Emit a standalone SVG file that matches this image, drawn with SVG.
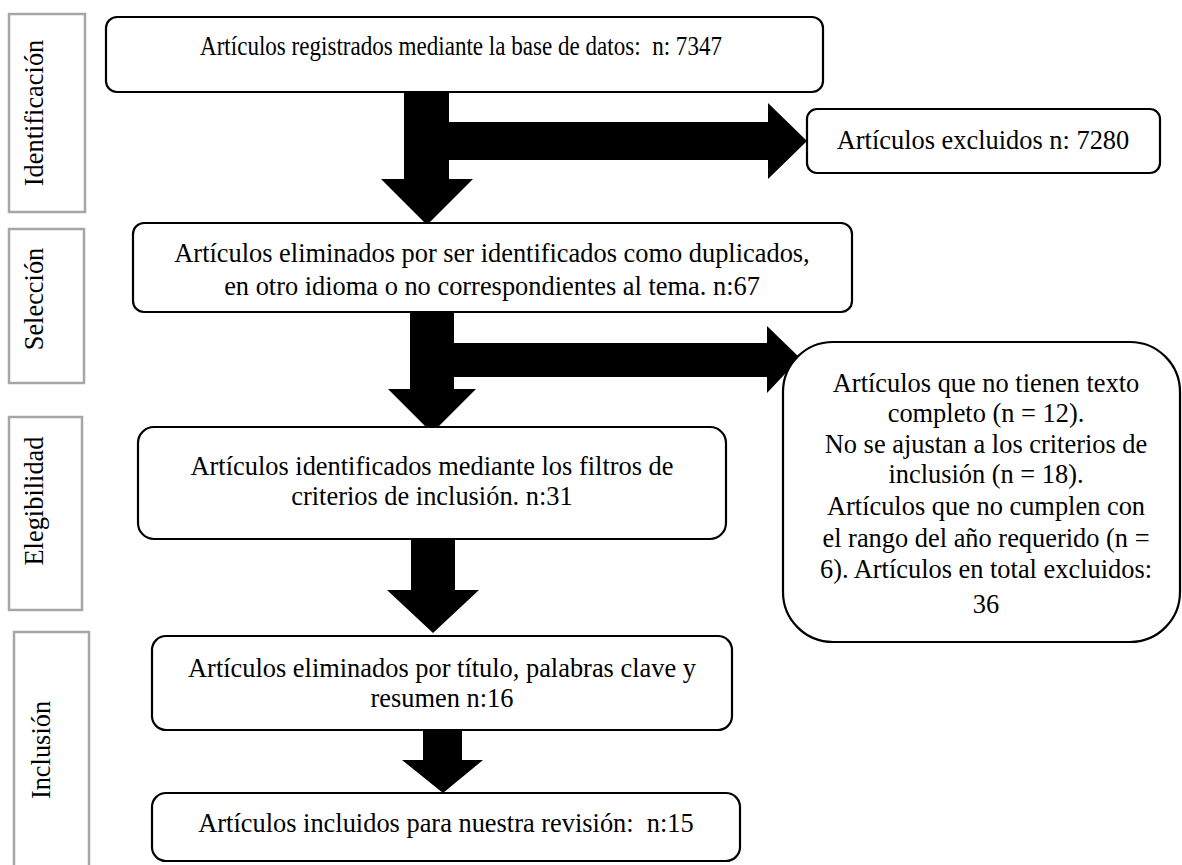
<svg xmlns="http://www.w3.org/2000/svg" width="1182" height="865" viewBox="0 0 1182 865">
<style>
.lbl{fill:#fff;stroke:#a6a6a6;stroke-width:2.5}
.box{fill:#fff;stroke:#000;stroke-width:2.2}
.t{font-family:'Liberation Serif','Times New Roman',serif;font-size:26.4px;fill:#000;text-anchor:middle}
.arr{fill:#000;stroke:none}
</style>
<rect width="1182" height="865" fill="#fff"/>
<g id="stage-identificacion"><rect class="lbl" x="9" y="14" width="76" height="198"/><text class="t" transform="translate(43,113) rotate(-90)">Identificación</text></g>
<g id="stage-seleccion"><rect class="lbl" x="9" y="229" width="75" height="154"/><text class="t" transform="translate(43,299) rotate(-90)">Selección</text></g>
<g id="stage-elegibilidad"><rect class="lbl" x="9" y="417" width="73" height="193"/><text class="t" transform="translate(43,501) rotate(-90)">Elegibilidad</text></g>
<g id="stage-inclusion"><rect class="lbl" x="14" y="632" width="75" height="250"/><text class="t" transform="translate(50,750) rotate(-90)">Inclusión</text></g>

<g id="connectors">
<polygon class="arr" points="404,93 449,93 449,179 473,179 427,225 381,179 404,179"/>
<polygon class="arr" points="449,122 768,122 768,103 807,141 768,179 768,160 449,160"/>
<polygon class="arr" points="410,313 454,313 454,389 476,389 432,433 388,389 410,389"/>
<polygon class="arr" points="454,343 767,343 767,326 800,358 767,393 767,377 454,377"/>
<polygon class="arr" points="411,539 455,539 455,590 479,590 433,633 387,590 411,590"/>
<polygon class="arr" points="423,731 462,731 462,760 483,760 443,793 402,760 423,760"/>
</g>

<g id="n1"><rect class="box" x="106" y="17" width="717" height="75" rx="11"/><text class="t" style="text-anchor:start" x="200" y="55" textLength="522" lengthAdjust="spacingAndGlyphs">Artículos registrados mediante la base de datos:&#160; n: 7347</text></g>
<g id="n-excl1"><rect class="box" x="807" y="109" width="353" height="64" rx="10"/><text class="t" x="983" y="149">Artículos excluidos n: 7280</text></g>
<g id="n2"><rect class="box" x="133" y="223" width="719" height="89" rx="11"/><text class="t" x="492" y="262">Artículos eliminados por ser identificados como duplicados,</text><text class="t" x="492" y="295">en otro idioma o no correspondientes al tema. n:67</text></g>
<g id="n-excl2"><rect class="box" x="783" y="342" width="397" height="300" rx="50"/>
<text class="t" x="986" y="392">Artículos que no tienen texto</text>
<text class="t" x="986" y="422">completo (n = 12).</text>
<text class="t" x="986" y="453">No se ajustan a los criterios de</text>
<text class="t" x="986" y="483">inclusión (n = 18).</text>
<text class="t" x="986" y="515">Artículos que no cumplen con</text>
<text class="t" x="986" y="547">el rango del año requerido (n =</text>
<text class="t" x="986" y="578">6). Artículos en total excluidos:</text>
<text class="t" x="986" y="613">36</text></g>
<g id="n3"><rect class="box" x="138" y="427" width="588" height="112" rx="16"/><text class="t" x="432" y="475">Artículos identificados mediante los filtros de</text><text class="t" x="432" y="505">criterios de inclusión. n:31</text></g>
<g id="n4"><rect class="box" x="152" y="636" width="580" height="94" rx="14"/><text class="t" x="442" y="677">Artículos eliminados por título, palabras clave y</text><text class="t" x="442" y="707">resumen n:16</text></g>
<g id="n5"><rect class="box" x="152" y="793" width="588" height="68" rx="14"/><text class="t" x="446" y="832">Artículos incluidos para nuestra revisión:&#160; n:15</text></g>
</svg>
